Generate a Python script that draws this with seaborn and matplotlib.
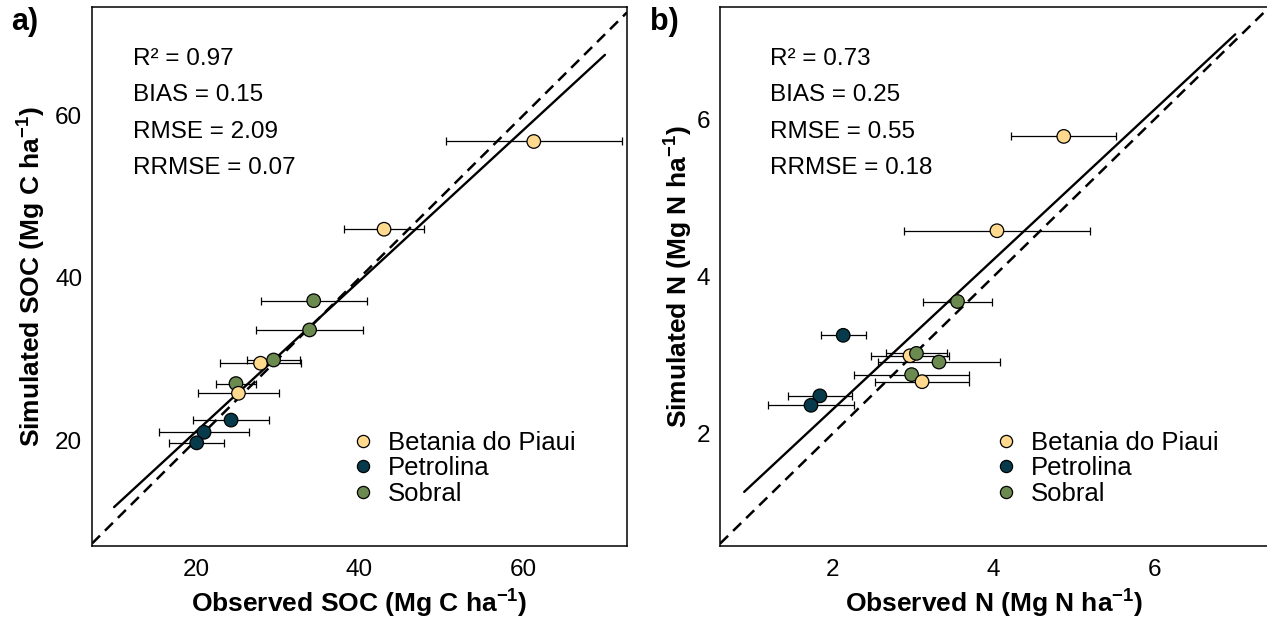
import numpy as np
import pandas as pd
import matplotlib
matplotlib.use("Agg")
import matplotlib.pyplot as plt
import seaborn as sns

# ---------------- data ----------------
sites = ["Betania do Piaui", "Petrolina", "Sobral"]
site_colors = ["#FED98E", "#073B4C", "#6A8A4F"]

# Panel a: SOC (observed, simulated, observed error)
soc_site = ["Betania do Piaui", "Betania do Piaui", "Sobral", "Sobral", "Betania do Piaui",
            "Sobral", "Sobral", "Betania do Piaui", "Petrolina", "Petrolina", "Petrolina"]
soc_obs = [61.3, 43.0, 34.4, 33.9, 27.9, 29.5, 24.9, 25.2, 24.3, 21.0, 20.1]
soc_sim = [56.8, 46.0, 37.2, 33.6, 29.5, 29.9, 27.0, 25.8, 22.5, 21.0, 19.7]
soc_err = [10.75, 4.85, 6.5, 6.55, 4.95, 3.2, 2.45, 4.9, 4.65, 5.45, 3.35]
soc_fit = [2.51, 0.928]          # intercept, slope
soc_fit_range = [10, 70]
soc_stats = ["R² = 0.97", "BIAS = 0.15", "RMSE = 2.09", "RRMSE = 0.07"]
soc_ticks = [20, 40, 60]

# Panel b: N
n_site = ["Betania do Piaui", "Betania do Piaui", "Sobral", "Petrolina", "Betania do Piaui",
          "Sobral", "Sobral", "Sobral", "Betania do Piaui", "Petrolina", "Petrolina"]
n_obs = [4.87, 4.04, 3.55, 2.13, 2.96, 3.04, 3.32, 2.98, 3.11, 1.84, 1.73]
n_sim = [5.78, 4.58, 3.68, 3.25, 2.99, 3.02, 2.91, 2.75, 2.66, 2.48, 2.36]
n_err = [0.65, 1.15, 0.43, 0.28, 0.49, 0.38, 0.76, 0.71, 0.58, 0.395, 0.53]
n_fit = [0.40, 0.954]
n_fit_range = [0.9, 7.0]
n_stats = ["R² = 0.73", "BIAS = 0.25", "RMSE = 0.55", "RRMSE = 0.18"]
n_ticks = [2, 4, 6]

# ---------------- style ----------------
sns.set_style("white")
plt.rcParams["font.family"] = ["Liberation Sans", "DejaVu Sans"]
plt.rcParams["mathtext.fontset"] = "custom"
plt.rcParams["mathtext.rm"] = "Liberation Sans"
plt.rcParams["mathtext.bf"] = "Liberation Sans:bold"
plt.rcParams["mathtext.default"] = "regular"
plt.rcParams["text.color"] = "black"
plt.rcParams["axes.labelcolor"] = "black"
plt.rcParams["xtick.color"] = "black"
plt.rcParams["ytick.color"] = "black"

fig = plt.figure(figsize=(12.67, 6.18), dpi=100)
ax1 = fig.add_axes([0.0726, 0.1165, 0.4223, 0.8714])
ax2 = fig.add_axes([0.5683, 0.1165, 0.4333, 0.8714])

palette = dict(zip(sites, site_colors))


def panel(ax, site, obs, sim, err, fit, fit_range, stats, ticks, xlim, ylim,
          xlabel, ylabel, tag, tag_x, text_x, leg_x, ylab_x):
    df = pd.DataFrame({"site": site, "obs": obs, "sim": sim, "err": err})
    ax.errorbar(df["obs"], df["sim"], xerr=df["err"], fmt="none", ecolor="black",
                elinewidth=0.9, capsize=3, capthick=0.9, zorder=2)
    sns.scatterplot(data=df, x="obs", y="sim", hue="site", hue_order=sites,
                    palette=palette, s=95, edgecolor="black", linewidth=0.9,
                    zorder=3, ax=ax, legend=True)
    ax.axline((0, 0), slope=1, color="black", lw=1.8, ls=(0, (4.5, 2.8)), zorder=1)
    xs = np.array(fit_range, dtype=float)
    ax.plot(xs, fit[0] + fit[1] * xs, color="black", lw=1.7, zorder=1)
    ax.set_xlim(*xlim)
    ax.set_ylim(*ylim)
    ax.set_xticks(ticks)
    ax.set_yticks(ticks)
    ax.tick_params(length=0, labelsize=17.5, colors="black")
    ax.tick_params(axis="x", pad=9)
    ax.tick_params(axis="y", pad=7)
    ax.set_xlabel(xlabel, fontsize=19, fontweight="bold", labelpad=5)
    ax.set_ylabel(ylabel, fontsize=19, fontweight="bold")
    ax.yaxis.set_label_coords(ylab_x, 0.5)
    for sp in ax.spines.values():
        sp.set_color("black")
        sp.set_linewidth(1.1)
        sp.set_visible(True)
    for i, s in enumerate(stats):
        ax.text(text_x, 0.905 - 0.068 * i, s, transform=ax.transAxes,
                fontsize=17.5, va="center", ha="left", color="black")
    handles, labels = ax.get_legend_handles_labels()
    leg = ax.legend(handles, labels, loc="lower left", bbox_to_anchor=(leg_x, 0.075),
                    frameon=False, fontsize=18.5, borderaxespad=0, borderpad=0,
                    handlelength=1.0, handletextpad=0.45, labelspacing=0.05,
                    markerscale=0.9)
    for t in leg.get_texts():
        t.set_color("black")
    ax.text(tag_x, 1.0, tag, transform=ax.transAxes, fontsize=22,
            fontweight="bold", va="top", ha="left", color="black")


panel(ax1, soc_site, soc_obs, soc_sim, soc_err, soc_fit, soc_fit_range, soc_stats,
      soc_ticks, (7.3, 72.7), (7.0, 73.3),
      r"Observed SOC (Mg C ha$^{-1}$)", r"Simulated SOC (Mg C ha$^{-1}$)",
      "a)", -0.152, 0.077, 0.483, -0.083)
panel(ax2, n_site, n_obs, n_sim, n_err, n_fit, n_fit_range, n_stats,
      n_ticks, (0.60, 7.42), (0.57, 7.42),
      r"Observed N (Mg N ha$^{-1}$)", r"Simulated N (Mg N ha$^{-1}$)",
      "b)", -0.128, 0.091, 0.498, -0.046)

fig.savefig("out.png", dpi=100)
